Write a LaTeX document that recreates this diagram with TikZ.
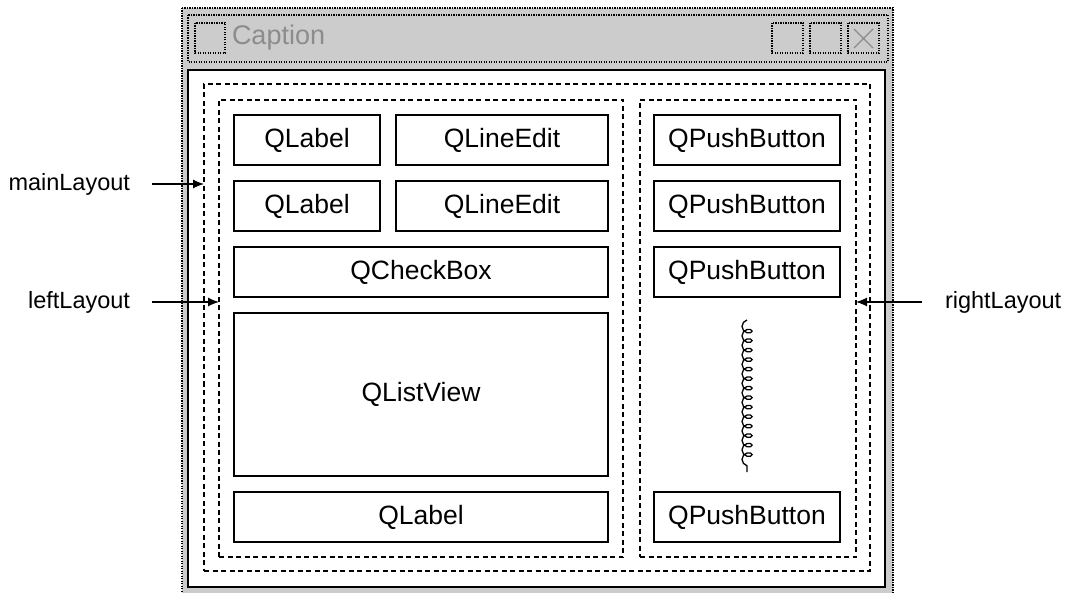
\documentclass[tikz,border=0pt]{standalone}
\usepackage{fontspec}
\setmainfont{Liberation Sans}
\usetikzlibrary{arrows.meta,decorations.pathmorphing}

\begin{document}
\begin{tikzpicture}[x=1pt,y=-1pt]
\tikzstyle{every node}=[outer sep=0pt]
\tikzstyle{widget}=[draw,line width=1.3pt,fill=white,font=\fontsize{26.5}{30}\selectfont]
\tikzstyle{layout}=[draw,line width=1.1pt,dash pattern=on 5pt off 3.5pt]
\tikzstyle{frame}=[draw,line width=1.2pt,dash pattern=on 1.2pt off 1.3pt]
\tikzstyle{tag}=[font=\fontsize{23.5}{28}\selectfont,inner sep=0pt]
\tikzstyle{pointer}=[line width=1.1pt,-{Latex[length=11pt,width=9pt]}]
\useasboundingbox (0,0) rectangle (1070,593);
% window
\filldraw[frame,fill=black!20] (182,8) rectangle (893,610);
\draw[frame] (188,15) rectangle (888,62);
\draw[frame] (195,23) rectangle (225,53);
\node[anchor=west,inner sep=0pt,text=black!45,font=\fontsize{27}{30}\selectfont] (caption) at (232,38) {Caption};
\draw[frame] (772,23) rectangle (803,53);
\draw[frame] (810,23) rectangle (841,53);
\draw[frame] (848,23) rectangle (879,53);
\draw[black!45,line width=1.2pt] (854,29) -- (873,48) (873,29) -- (854,48);
\filldraw[draw=black,fill=white,line width=2.2pt] (188,70) rectangle (885,587);
% layouts
\node[layout,minimum width=666pt,minimum height=487pt] (mainLayout) at (537,327.5) {};
\node[layout,minimum width=404pt,minimum height=457pt] (leftLayout) at (421,328.5) {};
\node[layout,minimum width=216pt,minimum height=457pt] (rightLayout) at (748,328.5) {};
% left column
\node[widget,minimum width=146pt,minimum height=50pt] (label1) at (307,140) {QLabel};
\node[widget,minimum width=212pt,minimum height=50pt] (edit1) at (502,140) {QLineEdit};
\node[widget,minimum width=146pt,minimum height=50pt] (label2) at (307,206) {QLabel};
\node[widget,minimum width=212pt,minimum height=50pt] (edit2) at (502,206) {QLineEdit};
\node[widget,minimum width=374pt,minimum height=50pt] (check) at (421,272) {QCheckBox};
\node[widget,minimum width=374pt,minimum height=163pt] (list) at (421,394.5) {QListView};
\node[widget,minimum width=374pt,minimum height=50pt] (label3) at (421,517) {QLabel};
% right column
\node[widget,minimum width=186pt,minimum height=50pt] (push1) at (747,140) {QPushButton};
\node[widget,minimum width=186pt,minimum height=50pt] (push2) at (747,206) {QPushButton};
\node[widget,minimum width=186pt,minimum height=50pt] (push3) at (747,272) {QPushButton};
\node[widget,minimum width=186pt,minimum height=50pt] (push4) at (747,517) {QPushButton};
\coordinate (springtop) at (747,320);
\coordinate (springbot) at (747,472);
\draw[line width=1.3pt,decorate,decoration={coil,mirror,aspect=0.8,amplitude=5pt,segment length=9.5pt}] (springtop) -- (springbot);
% labels
\node[tag,anchor=east] (mainTag) at (130,184) {mainLayout};
\node[tag,anchor=east] (leftTag) at (130,302) {leftLayout};
\node[tag,anchor=west] (rightTag) at (945,302) {rightLayout};
\draw[pointer] ([xshift=22pt]mainTag.east) -- (mainTag -| mainLayout.west);
\draw[pointer] ([xshift=22pt]leftTag.east) -- (leftTag -| leftLayout.west);
\draw[pointer] ([xshift=-23pt]rightTag.west) -- (rightTag -| rightLayout.east);
\end{tikzpicture}
\end{document}
